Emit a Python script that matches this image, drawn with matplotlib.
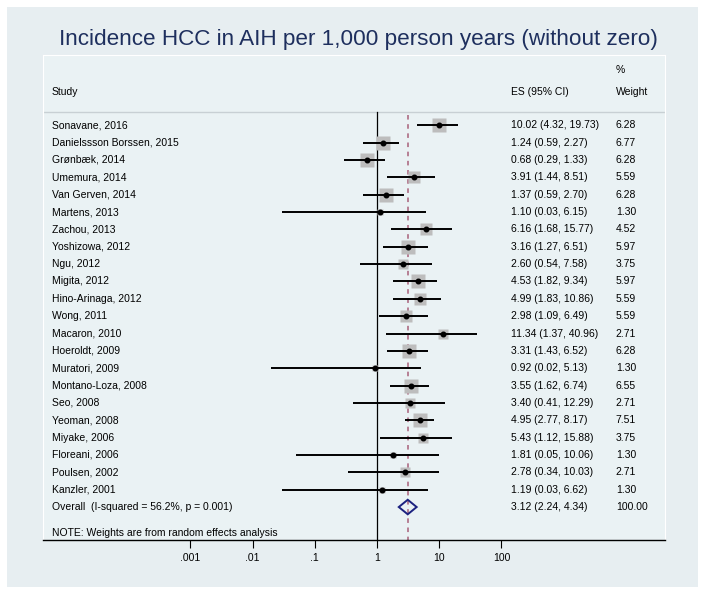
import numpy as np
import matplotlib.pyplot as plt
from matplotlib.patches import Rectangle, Polygon

plt.rcParams['font.family'] = ['Liberation Sans', 'DejaVu Sans']

# study data
studies = ["Sonavane, 2016", "Danielssson Borssen, 2015", "Grønbæk, 2014", "Umemura, 2014",
           "Van Gerven, 2014", "Martens, 2013", "Zachou, 2013", "Yoshizowa, 2012", "Ngu, 2012",
           "Migita, 2012", "Hino-Arinaga, 2012", "Wong, 2011", "Macaron, 2010", "Hoeroldt, 2009",
           "Muratori, 2009", "Montano-Loza, 2008", "Seo, 2008", "Yeoman, 2008", "Miyake, 2006",
           "Floreani, 2006", "Poulsen, 2002", "Kanzler, 2001"]
es = [10.02, 1.24, 0.68, 3.91, 1.37, 1.10, 6.16, 3.16, 2.60, 4.53, 4.99, 2.98, 11.34, 3.31,
      0.92, 3.55, 3.40, 4.95, 5.43, 1.81, 2.78, 1.19]
lo = [4.32, 0.59, 0.29, 1.44, 0.59, 0.03, 1.68, 1.27, 0.54, 1.82, 1.83, 1.09, 1.37, 1.43,
      0.02, 1.62, 0.41, 2.77, 1.12, 0.05, 0.34, 0.03]
hi = [19.73, 2.27, 1.33, 8.51, 2.70, 6.15, 15.77, 6.51, 7.58, 9.34, 10.86, 6.49, 40.96, 6.52,
      5.13, 6.74, 12.29, 8.17, 15.88, 10.06, 10.03, 6.62]
weight = [6.28, 6.77, 6.28, 5.59, 6.28, 1.30, 4.52, 5.97, 3.75, 5.97, 5.59, 5.59, 2.71, 6.28,
          1.30, 6.55, 2.71, 7.51, 3.75, 1.30, 2.71, 1.30]
overall_label = "Overall  (I-squared = 56.2%, p = 0.001)"
overall_es, overall_lo, overall_hi, overall_w = 3.12, 2.24, 4.34, 100.00
xticks = [0.001, 0.01, 0.1, 1, 10, 100]
xticklabels = [".001", ".01", ".1", "1", "10", "100"]

fig = plt.figure(figsize=(7.04, 5.95), dpi=100)
fig.patch.set_facecolor('white')

# outer graph region
bg = fig.add_axes([7 / 704, 1 - 587 / 595, 691 / 704, 580 / 595], zorder=-5)
bg.set_facecolor('#e7eef1')
bg.set_xticks([])
bg.set_yticks([])
for s in bg.spines.values():
    s.set_visible(False)

ax = fig.add_axes([43 / 704, 1 - 540 / 595, 622 / 704, 485 / 595])
ax.set_facecolor('#eaf2f4')
ax.set_xscale('log')
ax.set_xlim(10 ** (-334 / 62.2), 10 ** (288 / 62.2))
ax.set_ylim(23.9, -4.05)
for s in ['top', 'left', 'right']:
    ax.spines[s].set_color('white')
    ax.spines[s].set_linewidth(0.8)
ax.spines['bottom'].set_linewidth(1.0)
ax.set_yticks([])
ax.set_xticks(xticks)
ax.set_xticklabels(xticklabels, fontsize=7.5)
ax.minorticks_off()
ax.tick_params(axis='x', length=5.8, width=0.8, pad=3.5)

n = len(studies)
rows = np.arange(n)
trans = ax.get_yaxis_transform()

# header
ax.axhline(-0.77, color='#c8d0d4', lw=1.0)
ax.text(0.0145, -1.92, "Study", transform=trans, fontsize=7.5, va='center')
ax.text(0.752, -1.92, "ES (95% CI)", transform=trans, fontsize=7.5, va='center')
ax.text(0.921, -3.19, "%", transform=trans, fontsize=7.5, va='center')
ax.text(0.921, -1.92, "Weight", transform=trans, fontsize=7.5, va='center')

# reference lines
ax.plot([1, 1], [-0.77, 23.9], color='black', lw=0.9, zorder=2)
ax.plot([overall_es, overall_es], [-0.6, 23.9], color='#a8607a', lw=1.1,
        dashes=(3, 3), zorder=2)

# studies
for i in rows:
    ax.plot([lo[i], hi[i]], [i, i], color='black', lw=1.4, zorder=4, solid_capstyle='butt')
    ax.plot(es[i], i, marker='s', markersize=3.94 * np.sqrt(weight[i]),
            color='#bdbdbd', mec='none', zorder=3)
    ax.plot(es[i], i, marker='o', markersize=3.3, color='black', zorder=5)
    ax.text(0.0145, i, studies[i], transform=trans, fontsize=7.5, va='center')
    ax.text(0.752, i, f"{es[i]:.2f} ({lo[i]:.2f}, {hi[i]:.2f})", transform=trans,
            fontsize=7.5, va='center')
    ax.text(0.921, i, f"{weight[i]:.2f}", transform=trans, fontsize=7.5, va='center')

# overall diamond
yo = n
ax.add_patch(Polygon([(overall_lo, yo), (overall_es, yo - 0.42), (overall_hi, yo),
                      (overall_es, yo + 0.42)], closed=True, facecolor='none',
                     edgecolor='#1c2280', lw=1.4, zorder=6))
ax.text(0.0145, yo, overall_label, transform=trans, fontsize=7.5, va='center')
ax.text(0.752, yo, f"{overall_es:.2f} ({overall_lo:.2f}, {overall_hi:.2f})", transform=trans,
        fontsize=7.5, va='center')
ax.text(0.921, yo, f"{overall_w:.2f}", transform=trans, fontsize=7.5, va='center')
ax.text(0.0145, 23.5, "NOTE: Weights are from random effects analysis", transform=trans,
        fontsize=7.5, va='center')

fig.text(0.509, 1 - 40 / 595, "Incidence HCC in AIH per 1,000 person years (without zero)",
         ha='center', va='center', fontsize=16.2, color='#1e2f5e')

fig.savefig('out.png', dpi=100)
